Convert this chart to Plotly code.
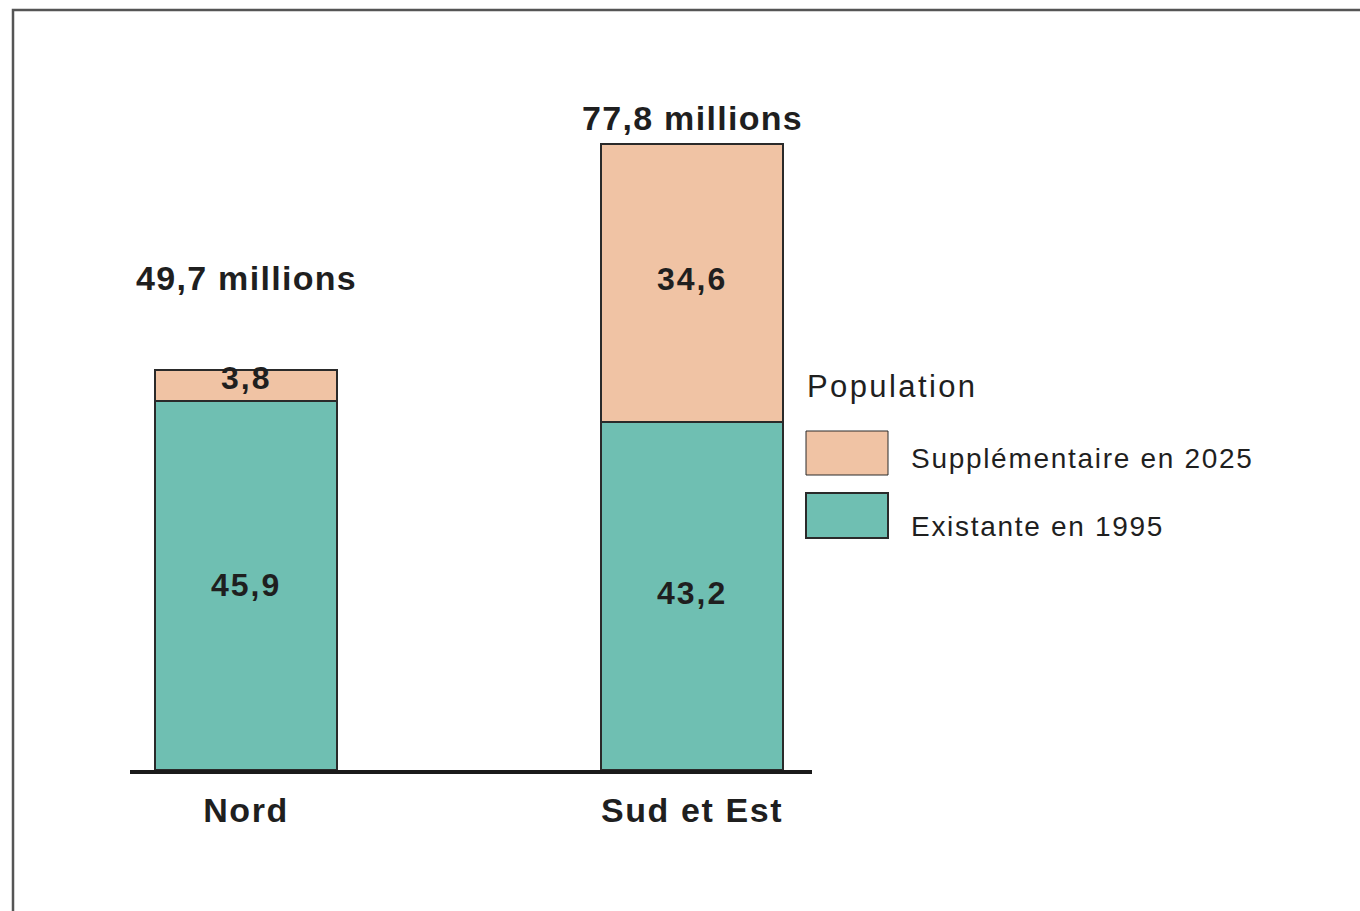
import plotly.graph_objects as go

# ---- data ----
regions = ["Nord", "Sud et Est"]
existante_1995 = [45.9, 43.2]
supplementaire_2025 = [3.8, 34.6]
totals = [49.7, 77.8]
existante_labels = ["45,9", "43,2"]
supplementaire_labels = ["3,8", "34,6"]
total_labels = ["49,7 millions", "77,8 millions"]
legend_title = "Population"
legend_names = ["Supplémentaire en 2025", "Existante en 1995"]

# ---- style ----
TEAL = "#6FBFB2"
PEACH = "#F0C3A4"
EDGE = "#2a2a2a"
TXT = "#1f1f1f"
BOLD_FONT = "Liberation Sans, Arial, sans-serif"
REG_FONT = "Liberation Sans, Arial, sans-serif"

W, H = 1360, 911
L, R = 130, 812          # plot area horizontal pixels
T, B = 10, 770           # plot area vertical pixels
px_per_unit = 400 / 49.7
ymax = (B - T) / px_per_unit
xc = [0, 1]
x_unit = 692 - 246
xr0 = -(246 - L) / x_unit
xr1 = 1 + (R - 692) / x_unit
bar_w = 182 / x_unit


def px(xpix):
    return (xpix - L) / (R - L)


def py(ypix):
    return (B - ypix) / (B - T)


def spaced(t, sp):
    return f'<span style="letter-spacing:{sp}px">{t}</span>'


fig = go.Figure()
fig.add_trace(go.Bar(x=xc, y=existante_1995, width=bar_w, name=legend_names[1],
                     marker=dict(color=TEAL, line=dict(color=EDGE, width=2)),
                     showlegend=False, hoverinfo="skip"))
fig.add_trace(go.Bar(x=xc, y=supplementaire_2025, width=bar_w, name=legend_names[0],
                     marker=dict(color=PEACH, line=dict(color=EDGE, width=2)),
                     showlegend=False, hoverinfo="skip"))

annotations = []
bold = dict(family=BOLD_FONT, size=34, color=TXT, weight="bold")
seg_font = dict(family=BOLD_FONT, size=32, color=TXT, weight="bold")
total_shift = [92, 26]
supp_shift = [7, 4]
exist_shift = [0, 3]
for i in range(len(regions)):
    annotations.append(dict(x=xc[i], y=totals[i], xref="x", yref="y",
                            text=spaced(total_labels[i], 1.3), showarrow=False,
                            font=bold, yshift=total_shift[i], yanchor="middle"))
    annotations.append(dict(x=xc[i], y=existante_1995[i] / 2, xref="x", yref="y",
                            text=spaced(existante_labels[i], 2), showarrow=False,
                            font=seg_font, yanchor="middle", yshift=exist_shift[i]))
    annotations.append(dict(x=xc[i], y=existante_1995[i] + supplementaire_2025[i] / 2,
                            xref="x", yref="y", text=spaced(supplementaire_labels[i], 2),
                            showarrow=False, font=seg_font, yanchor="middle",
                            yshift=supp_shift[i]))

# legend (manual)
annotations.append(dict(x=px(805), y=py(386), xref="paper", yref="paper",
                        text=spaced(legend_title, 2.4), showarrow=False, xanchor="left",
                        yanchor="middle", font=dict(family=REG_FONT, size=31, color=TXT)))
leg_colors = [PEACH, TEAL]
leg_y = [(431, 475), (493, 538)]
leg_text_y = [458, 526]
shapes = []
for k in range(2):
    shapes.append(dict(type="rect", xref="paper", yref="paper",
                       x0=px(806), x1=px(888), y0=py(leg_y[k][1]), y1=py(leg_y[k][0]),
                       fillcolor=leg_colors[k], line=dict(color=EDGE, width=2 if k else 1)))
    annotations.append(dict(x=px(909), y=py(leg_text_y[k]), xref="paper", yref="paper",
                            text=spaced(legend_names[k], 1.7), showarrow=False,
                            xanchor="left", yanchor="middle",
                            font=dict(family=REG_FONT, size=28, color=TXT)))

# frame
shapes.append(dict(type="path", xref="paper", yref="paper",
                   path=f"M {px(13)},{py(925)} L {px(13)},{py(10)} L {px(1375)},{py(10)}",
                   line=dict(color="#555555", width=2.5)))

fig.update_layout(
    width=W, height=H,
    margin=dict(l=L, r=W - R, t=T, b=H - B, pad=0),
    paper_bgcolor="white", plot_bgcolor="white",
    barmode="stack", bargap=0,
    annotations=annotations, shapes=shapes,
    xaxis=dict(range=[xr0, xr1], tickvals=xc,
               ticktext=[spaced(r, 1.6) for r in regions],
               showline=True, linecolor="#1a1a1a", linewidth=4,
               showgrid=False, zeroline=False, ticks="", ticklabelstandoff=7,
               tickfont=dict(family=BOLD_FONT, size=34, color=TXT, weight="bold"),
               fixedrange=True),
    yaxis=dict(range=[0, ymax], visible=False, showgrid=False, zeroline=False,
               fixedrange=True),
)

fig.write_html("out.html")
